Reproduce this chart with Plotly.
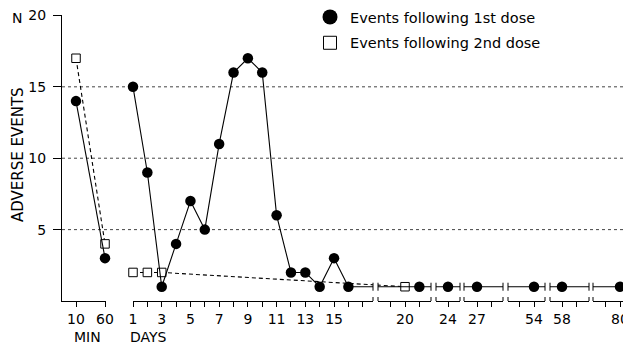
import plotly.graph_objects as go

# ---------------- data ----------------
min_times = [10, 60]
min_first = [14, 3]
min_second = [17, 4]

days_first = [1, 2, 3, 4, 5, 6, 7, 8, 9, 10, 11, 12, 13, 14, 15, 16, 21, 24, 27, 54, 58, 80]
vals_first = [15, 9, 1, 4, 7, 5, 11, 16, 17, 16, 6, 2, 2, 1, 3, 1, 1, 1, 1, 1, 1, 1]

days_second = [1, 2, 3, 20]
vals_second = [2, 2, 2, 1]

y_ticks = [5, 10, 15, 20]
day_labels = [1, 3, 5, 7, 9, 11, 13, 15, 20, 24, 27, 54, 58, 80]

# ---------------- layout geometry (page pixels) ----------------
OFF = 8                      # default body margin of the page
PAGE_W, PAGE_H = 631, 346
PL, PR, PT, PB = 62, 631, 15, 301   # plot area in page pixels
W, H = PAGE_W - OFF, PAGE_H - OFF
ML, MT, MR, MB = PL - OFF, PT - OFF, PAGE_W - PR, PAGE_H - PB
PPD = 14.36  # pixels per day
Y_TOP = 20.03


def frac(px):
    return (px - PL) / (PR - PL)


def yfrac(py):
    return (PB - py) / (PB - PT)


# (px start, px end, anchor value, anchor px, px per unit)
segments = [
    (62, 106, 10, 76, 0.58),      # minutes
    (133, 373, 1, 133, PPD),      # days 1-17
    (378, 431, 20, 405, PPD),
    (436, 460, 24, 448, PPD),
    (464, 503, 27, 477, PPD),
    (508, 545, 54, 534, PPD),
    (550, 589, 58, 562, PPD),
    (593, 625, 80, 620, PPD),
]

FONT = "DejaVu Sans, Liberation Sans, Arial, sans-serif"
fig = go.Figure()

first_line = dict(color="black", width=1.1)
second_line = dict(color="black", width=1.1, dash="4px,3px")
first_marker = dict(symbol="circle", size=10.5, color="black")
second_marker = dict(symbol="square", size=8.5, color="white", line=dict(color="black", width=1))

ranges = []
for p0, p1, av, ap, ppu in segments:
    ranges.append((av - (ap - p0) / ppu, av + (p1 - ap) / ppu))


def add_series(xs, ys, axis, rng, line, marker):
    # line: full series, clipped to the panel
    fig.add_trace(go.Scatter(x=xs, y=ys, xaxis=axis, yaxis="y", mode="lines", line=line,
                             showlegend=False, hoverinfo="skip"))
    # markers: only the points that fall inside the panel, not clipped
    pts = [(x, y) for x, y in zip(xs, ys) if rng[0] - 1e-9 <= x <= rng[1] + 1e-9]
    if pts:
        fig.add_trace(go.Scatter(x=[p[0] for p in pts], y=[p[1] for p in pts], xaxis=axis, yaxis="y",
                                 mode="markers", marker=marker, cliponaxis=False,
                                 showlegend=False, hoverinfo="skip"))


# minutes panel
add_series(min_times, min_second, "x", ranges[0], second_line, second_marker)
add_series(min_times, min_first, "x", ranges[0], first_line, first_marker)

# day panels
for i in range(2, len(segments) + 1):
    add_series(days_second, vals_second, f"x{i}", ranges[i - 1], second_line, second_marker)
    add_series(days_first, vals_first, f"x{i}", ranges[i - 1], first_line, first_marker)

# legend entries
fig.add_trace(go.Scatter(x=[None], y=[None], mode="markers", name="Events following 1st dose",
                         legendgroup="a", marker=dict(symbol="circle", size=15, color="black")))
fig.add_trace(go.Scatter(x=[None], y=[None], mode="markers", name="Events following 2nd dose",
                         legendgroup="b",
                         marker=dict(symbol="square", size=13, color="white", line=dict(color="black", width=1))))

axis_common = dict(showline=True, linecolor="black", linewidth=1, ticks="outside", ticklen=5,
                   tickcolor="black", tickwidth=1, showgrid=False, zeroline=False, anchor="y",
                   tickfont=dict(family=FONT, size=14, color="black"), fixedrange=True)

layout_axes = {}
for i, ((p0, p1, av, ap, ppu), (r0, r1)) in enumerate(zip(segments, ranges), start=1):
    if i == 1:
        tv = min_times
        tt = [str(v) for v in min_times]
    else:
        tv = [d for d in range(int(r0), int(r1) + 1) if r0 - 1e-6 <= d <= r1]
        tt = [str(d) if d in day_labels else "" for d in tv]
    name = "xaxis" if i == 1 else f"xaxis{i}"
    layout_axes[name] = dict(axis_common, domain=[frac(p0), frac(p1)], range=[r0, r1],
                             tickvals=tv, ticktext=tt)

fig.update_layout(**layout_axes)

fig.update_layout(
    width=W, height=H,
    margin=dict(l=ML, r=MR, t=MT, b=MB, autoexpand=False),
    paper_bgcolor="white", plot_bgcolor="white",
    yaxis=dict(range=[0, Y_TOP], domain=[0, 1], showline=True, linecolor="black", linewidth=1,
               ticks="outside", ticklen=8, tickcolor="black", tickmode="array", tickvals=y_ticks,
               ticktext=[str(v) for v in y_ticks], showgrid=False, zeroline=False,
               anchor="x", ticklabelstandoff=4, ticklabeloverflow="allow",
               tickfont=dict(family=FONT, size=14, color="black"), fixedrange=True),
    legend=dict(x=frac(310), y=yfrac(1), xanchor="left", yanchor="top", xref="paper", yref="paper",
                font=dict(family=FONT, size=14.5, color="black"), bgcolor="rgba(0,0,0,0)",
                tracegroupgap=4, itemsizing="trace"),
    showlegend=True,
    font=dict(family=FONT, color="black"),
)

shapes = []
# dotted grid lines across the whole width
for v in [5, 10, 15]:
    shapes.append(dict(type="line", xref="paper", yref="y", x0=0, x1=1, y0=v, y1=v,
                       line=dict(color="#444", width=1, dash="dot"), layer="below"))

# break caps
caps = [(2, 1), (3, 0), (3, 1), (4, 0), (4, 1), (5, 0), (5, 1), (6, 0), (6, 1), (7, 0), (7, 1), (8, 0)]
for ax, side in caps:
    for yv, half in [(0, 4), (1, 4)]:
        shapes.append(dict(type="line", xref=f"x{ax} domain", yref="y", x0=side, x1=side,
                           ysizemode="pixel", yanchor=yv, y0=-half, y1=half,
                           line=dict(color="black", width=1)))
fig.update_layout(shapes=shapes)

annotations = [
    dict(text="N", x=frac(17), y=yfrac(18), xref="paper", yref="paper",
         showarrow=False, font=dict(family=FONT, size=14, color="black"), xanchor="center", yanchor="middle"),
    dict(text="ADVERSE EVENTS", x=frac(18), y=yfrac(155), xref="paper", yref="paper", textangle=-90,
         showarrow=False, font=dict(family=FONT, size=15, color="black"), xanchor="center", yanchor="middle"),
    dict(text="MIN", x=frac(87), y=yfrac(337), xref="paper", yref="paper",
         showarrow=False, font=dict(family=FONT, size=14, color="black"), xanchor="center", yanchor="middle"),
    dict(text="DAYS", x=frac(128), y=yfrac(337), xref="paper", yref="paper",
         showarrow=False, font=dict(family=FONT, size=14, color="black"), xanchor="left", yanchor="middle"),
]
fig.update_layout(annotations=annotations)

fig.write_html("out.html")
